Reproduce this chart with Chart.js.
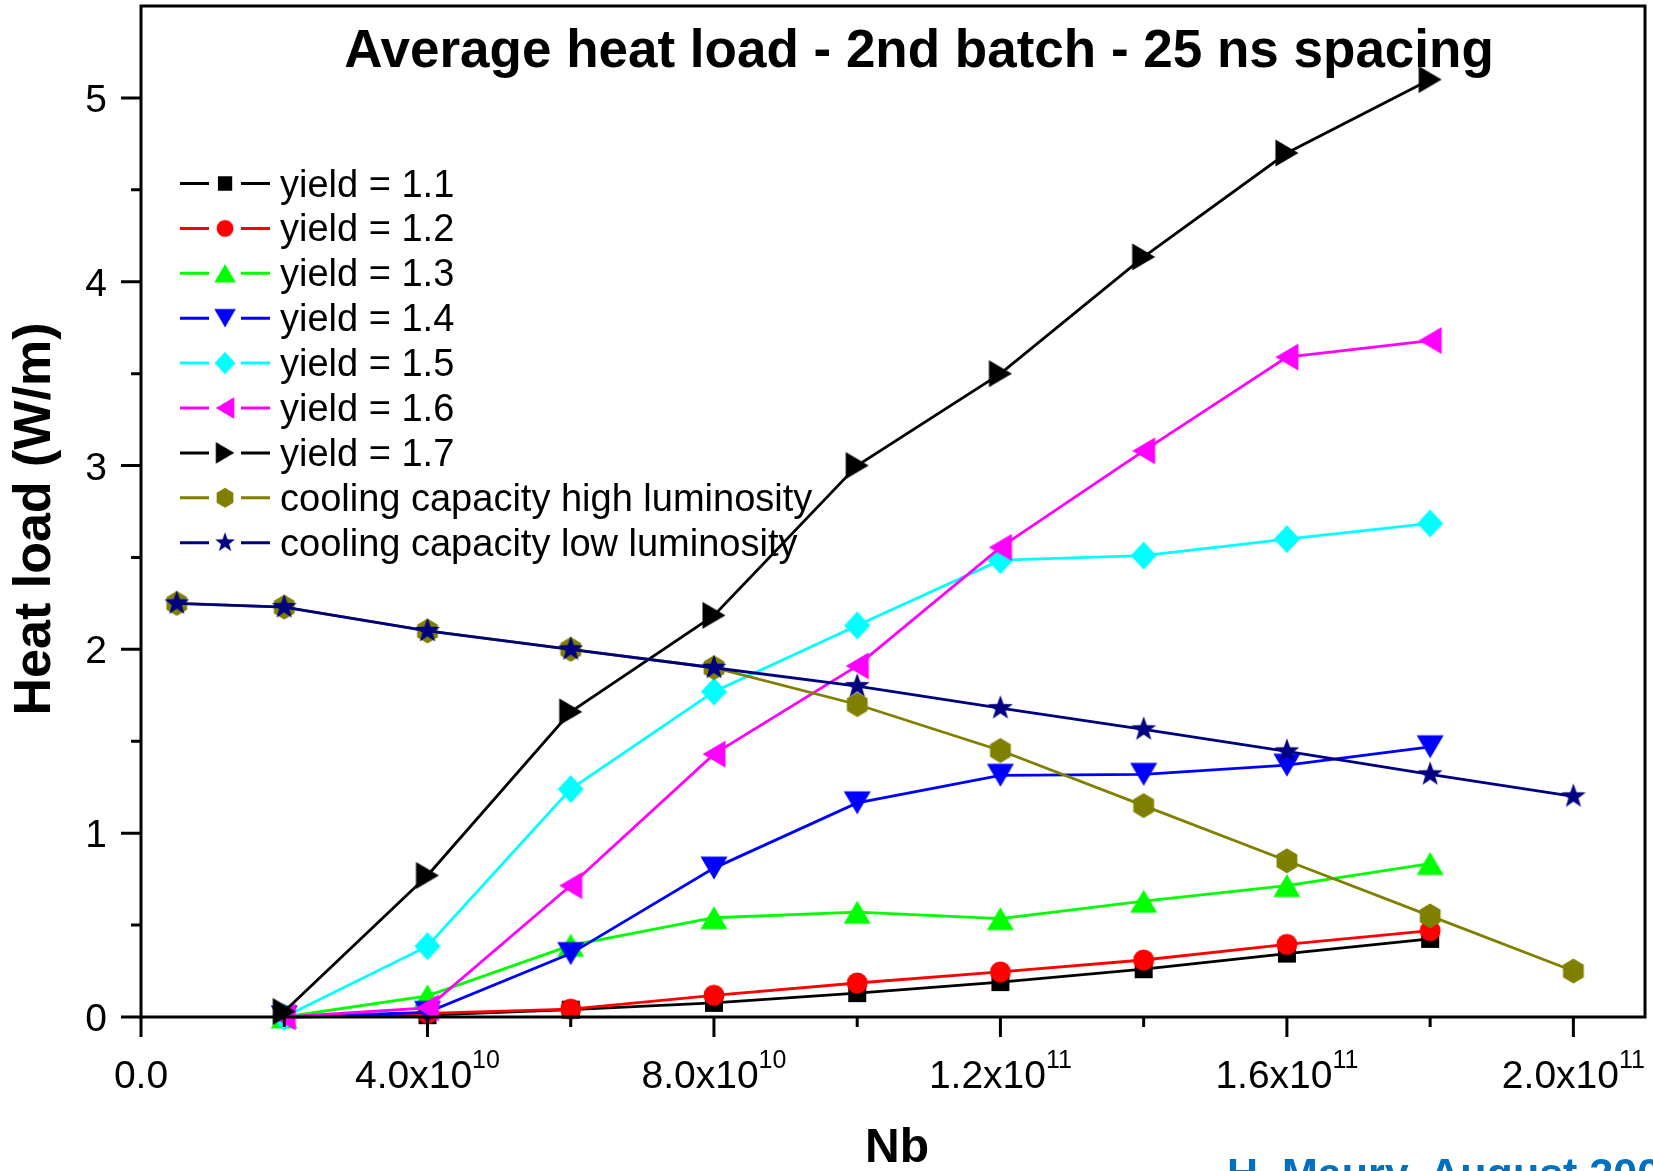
<!DOCTYPE html>
<html>
<head>
<meta charset="utf-8">
<title>Average heat load</title>
<script src="https://cdn.jsdelivr.net/npm/chart.js@4/dist/chart.umd.min.js"></script>
<style>
  html, body { margin: 0; padding: 0; background: #ffffff; }
  canvas { display: block; }
</style>
</head>
<body>
<canvas id="heatChart" width="1653" height="1171"></canvas>
<script>
// bunch population (protons per bunch)
const nbYield = [2e10, 4e10, 6e10, 8e10, 1.0e11, 1.2e11, 1.4e11, 1.6e11, 1.8e11];
const nbCooling = [0.5e10, 2e10, 4e10, 6e10, 8e10, 1.0e11, 1.2e11, 1.4e11, 1.6e11, 1.8e11, 2.0e11];

// heat load in W/m for each secondary emission yield
const yield11 = [0.00, 0.01, 0.04, 0.077, 0.13, 0.19, 0.26, 0.345, 0.425];
const yield12 = [0.00, 0.02, 0.043, 0.118, 0.185, 0.245, 0.31, 0.395, 0.47];
const yield13 = [0.00, 0.115, 0.39, 0.54, 0.57, 0.535, 0.63, 0.715, 0.835];
const yield14 = [0.00, 0.025, 0.345, 0.81, 1.165, 1.315, 1.32, 1.37, 1.47];
const yield15 = [0.00, 0.385, 1.24, 1.77, 2.13, 2.485, 2.51, 2.60, 2.685];
const yield16 = [0.00, 0.05, 0.715, 1.43, 1.91, 2.555, 3.08, 3.59, 3.68];
const yield17 = [0.03, 0.77, 1.66, 2.185, 3.00, 3.50, 4.135, 4.70, 5.10];

// available cooling capacity
const coolHigh = [2.25, 2.23, 2.10, 2.00, 1.90, 1.70, 1.45, 1.15, 0.85, 0.55, 0.25];
const coolLow = [2.25, 2.23, 2.10, 2.00, 1.90, 1.80, 1.68, 1.565, 1.445, 1.32, 1.20];

const seriesLabels = ['yield = 1.1', 'yield = 1.2', 'yield = 1.3', 'yield = 1.4', 'yield = 1.5',
  'yield = 1.6', 'yield = 1.7', 'cooling capacity high luminosity', 'cooling capacity low luminosity'];

// axis ticks
const xMajorTicks = [0, 4e10, 8e10, 1.2e11, 1.6e11, 2.0e11];
const xMajorLabels = ['0.0', '4.0x10', '8.0x10', '1.2x10', '1.6x10', '2.0x10'];
const xMajorExponents = ['', '10', '10', '11', '11', '11'];
const xMinorTicks = [2e10, 6e10, 1.0e11, 1.4e11, 1.8e11];
const yMajorTicks = [0, 1, 2, 3, 4, 5];
const yMajorLabels = ['0', '1', '2', '3', '4', '5'];
const yMinorTicks = [0.5, 1.5, 2.5, 3.5, 4.5];

const FONT = '"Liberation Sans", Arial, Helvetica, sans-serif';

// filled marker sprites, used both on the plot and in the legend
function makeMarker(shape, color) {
  const S = 32, m = S / 2;
  const c = document.createElement('canvas');
  c.width = S; c.height = S;
  const g = c.getContext('2d');
  g.fillStyle = color;
  g.beginPath();
  if (shape === 'square') {
    g.rect(m - 9, m - 9, 18, 18);
  } else if (shape === 'circle') {
    g.arc(m, m, 10.5, 0, Math.PI * 2);
  } else if (shape === 'up') {
    g.moveTo(m, m - 11.5); g.lineTo(m + 13.5, m + 11.5); g.lineTo(m - 13.5, m + 11.5);
  } else if (shape === 'down') {
    g.moveTo(m, m + 11.5); g.lineTo(m + 13.5, m - 11.5); g.lineTo(m - 13.5, m - 11.5);
  } else if (shape === 'left') {
    g.moveTo(m - 11.5, m); g.lineTo(m + 11.5, m - 13.5); g.lineTo(m + 11.5, m + 13.5);
  } else if (shape === 'right') {
    g.moveTo(m + 11.5, m); g.lineTo(m - 11.5, m - 13.5); g.lineTo(m - 11.5, m + 13.5);
  } else if (shape === 'diamond') {
    g.moveTo(m, m - 14); g.lineTo(m + 13, m); g.lineTo(m, m + 14); g.lineTo(m - 13, m);
  } else if (shape === 'hexagon') {
    for (let k = 0; k < 6; k++) {
      const a = -Math.PI / 2 + k * Math.PI / 3;
      const px = m + 12 * Math.cos(a), py = m + 12.5 * Math.sin(a);
      if (k === 0) g.moveTo(px, py); else g.lineTo(px, py);
    }
  } else if (shape === 'star') {
    for (let k = 0; k < 10; k++) {
      const a = -Math.PI / 2 + k * Math.PI / 5;
      const r = k % 2 === 0 ? 13 : 5.3;
      const px = m + r * Math.cos(a), py = m + r * Math.sin(a);
      if (k === 0) g.moveTo(px, py); else g.lineTo(px, py);
    }
  }
  g.closePath();
  g.fill();
  return c;
}

const styles = [
  { color: '#000000', shape: 'square' },
  { color: '#ff0000', shape: 'circle' },
  { color: '#00ff00', shape: 'up' },
  { color: '#0000ff', shape: 'down' },
  { color: '#00ffff', shape: 'diamond' },
  { color: '#ff00ff', shape: 'left' },
  { color: '#000000', shape: 'right' },
  { color: '#808000', shape: 'hexagon' },
  { color: '#000080', shape: 'star' }
];
styles.forEach(s => { s.marker = makeMarker(s.shape, s.color); });

function toPoints(xs, ys) {
  return xs.map((x, i) => ({ x: x, y: ys[i] }));
}

const seriesData = [
  toPoints(nbYield, yield11), toPoints(nbYield, yield12), toPoints(nbYield, yield13),
  toPoints(nbYield, yield14), toPoints(nbYield, yield15), toPoints(nbYield, yield16),
  toPoints(nbYield, yield17), toPoints(nbCooling, coolHigh), toPoints(nbCooling, coolLow)
];

const datasets = seriesData.map((pts, i) => ({
  label: seriesLabels[i],
  data: pts,
  borderColor: styles[i].color,
  backgroundColor: styles[i].color,
  borderWidth: 2.8,
  pointStyle: styles[i].marker,
  pointRadius: 12,
  tension: 0,
  clip: false,
  // later series are painted on top
  order: seriesData.length - i
}));

// axes, frame, labels, title and legend drawn on top of the chart area
const framePlugin = {
  id: 'originFrame',
  afterDraw(chart) {
    const ctx = chart.ctx;
    const xs = chart.scales.x, ys = chart.scales.y;
    const area = chart.chartArea;
    ctx.save();

    // frame
    ctx.strokeStyle = '#000';
    ctx.lineWidth = 3;
    ctx.strokeRect(area.left, area.top, area.right - area.left, area.bottom - area.top);

    // y ticks (outward)
    ctx.beginPath();
    yMajorTicks.forEach(v => {
      const y = ys.getPixelForValue(v);
      ctx.moveTo(area.left, y); ctx.lineTo(area.left - 20, y);
    });
    yMinorTicks.forEach(v => {
      const y = ys.getPixelForValue(v);
      ctx.moveTo(area.left, y); ctx.lineTo(area.left - 10, y);
    });
    // x ticks (outward)
    xMajorTicks.forEach(v => {
      const x = xs.getPixelForValue(v);
      ctx.moveTo(x, area.bottom); ctx.lineTo(x, area.bottom + 20);
    });
    xMinorTicks.forEach(v => {
      const x = xs.getPixelForValue(v);
      ctx.moveTo(x, area.bottom); ctx.lineTo(x, area.bottom + 10);
    });
    ctx.stroke();

    // y tick labels
    ctx.fillStyle = '#000';
    ctx.font = '39px ' + FONT;
    ctx.textAlign = 'right';
    ctx.textBaseline = 'alphabetic';
    yMajorTicks.forEach((v, i) => {
      ctx.fillText(yMajorLabels[i], area.left - 34, ys.getPixelForValue(v) + 14);
    });

    // x tick labels with superscript exponent
    ctx.textAlign = 'left';
    xMajorTicks.forEach((v, i) => {
      const x = xs.getPixelForValue(v);
      ctx.font = '39px ' + FONT;
      const wMain = ctx.measureText(xMajorLabels[i]).width;
      ctx.font = '25px ' + FONT;
      const wExp = xMajorExponents[i] ? ctx.measureText(xMajorExponents[i]).width : 0;
      const x0 = x - (wMain + wExp) / 2;
      ctx.font = '39px ' + FONT;
      ctx.fillText(xMajorLabels[i], x0, 1088);
      if (wExp) {
        ctx.font = '25px ' + FONT;
        ctx.fillText(xMajorExponents[i], x0 + wMain, 1068);
      }
    });

    // axis titles
    ctx.font = 'bold 48px ' + FONT;
    ctx.textAlign = 'center';
    ctx.fillText('Nb', 897, 1162);
    ctx.save();
    ctx.translate(50, 519);
    ctx.rotate(-Math.PI / 2);
    ctx.font = 'bold 52px ' + FONT;
    ctx.fillText('Heat load (W/m)', 0, 0);
    ctx.restore();

    // plot title
    ctx.font = 'bold 53px ' + FONT;
    ctx.textAlign = 'center';
    ctx.fillText('Average heat load - 2nd batch - 25 ns spacing', 919, 67);

    // legend: line - marker - line, then label
    ctx.textAlign = 'left';
    ctx.font = '38px ' + FONT;
    styles.forEach((s, i) => {
      const y = 183.5 + i * 44.9;
      ctx.strokeStyle = s.color;
      ctx.lineWidth = 3;
      ctx.beginPath();
      ctx.moveTo(180, y); ctx.lineTo(209, y);
      ctx.moveTo(241, y); ctx.lineTo(270, y);
      ctx.stroke();
      const mw = s.marker.width * 0.8;
      ctx.drawImage(s.marker, 225 - mw / 2, y - mw / 2, mw, mw);
      ctx.fillStyle = '#000';
      ctx.fillText(seriesLabels[i], 280, y + 13);
    });

    // author note at the bottom edge
    ctx.fillStyle = '#0070c0';
    ctx.font = 'bold 43px ' + FONT;
    ctx.fillText('H. Maury, August 200', 1227, 1188);

    ctx.restore();
  }
};

new Chart(document.getElementById('heatChart').getContext('2d'), {
  type: 'line',
  data: { datasets: datasets },
  options: {
    responsive: false,
    devicePixelRatio: 1,
    animation: false,
    layout: { autoPadding: false, padding: { left: 141, right: 8, top: 6, bottom: 154 } },
    plugins: {
      legend: { display: false },
      tooltip: { enabled: false },
      title: { display: false }
    },
    scales: {
      x: { type: 'linear', min: 0, max: 2.1e11, display: false },
      y: { type: 'linear', min: 0, max: 5.5, display: false }
    }
  },
  plugins: [framePlugin]
});
</script>
</body>
</html>
